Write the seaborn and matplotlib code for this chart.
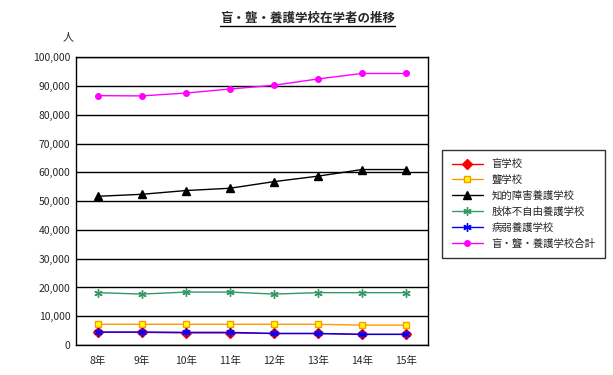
import pandas as pd
import matplotlib.pyplot as plt
import seaborn as sns

# data (人)
years = ["8年", "9年", "10年", "11年", "12年", "13年", "14年", "15年"]
mou = [4400, 4400, 4200, 4200, 4000, 4000, 3700, 3700]
rou = [7200, 7200, 7200, 7200, 7200, 7200, 6900, 6900]
chiteki = [51700, 52400, 53700, 54500, 56800, 58700, 61000, 61000]
shitai = [18200, 17700, 18400, 18400, 17700, 18200, 18200, 18200]
byojaku = [4500, 4500, 4400, 4400, 4000, 4000, 3700, 3700]
goukei = [86700, 86600, 87600, 89000, 90300, 92500, 94400, 94400]

names = ["盲学校", "聾学校", "知的障害養護学校", "肢体不自由養護学校", "病弱養護学校", "盲・聾・養護学校合計"]
series = [mou, rou, chiteki, shitai, byojaku, goukei]
colors = ["#ff0000", "#ff9900", "#000000", "#339966", "#0000ff", "#ff00ff"]
markers = ["D", "s", "^", (6, 2, 0), (6, 2, 0), "o"]
msizes = [5, 5, 6, 6, 6, 4]
mfc = ["#ff0000", "#ffff00", "#000000", "#339966", "#0000ff", "#ff00ff"]

sns.set_style("white")
plt.rcParams['font.family'] = ['Noto Sans CJK JP', 'DejaVu Sans']

fig = plt.figure(figsize=(6.13, 3.75), dpi=100)
ax = fig.add_axes([0.124, 0.08, 0.574, 0.767])

for name, vals, c, m, ms, fc in zip(names, series, colors, markers, msizes, mfc):
    df = pd.DataFrame({"year": years, "n": vals})
    sns.lineplot(data=df, x="year", y="n", ax=ax, color=c, marker=m,
                 markersize=ms, markerfacecolor=fc, markeredgecolor=c,
                 markeredgewidth=1, linewidth=1, label=name, legend=False)

ax.set_ylim(0, 100000)
ax.set_xlim(-0.5, 7.5)
ax.set_yticks(range(0, 100001, 10000))
ax.set_yticklabels([f"{v:,}" for v in range(0, 100001, 10000)], fontsize=7.5)
ax.grid(axis="y", color="black", linewidth=1)
ax.set_axisbelow(True)
ax.set_xlabel("")
ax.set_ylabel("")
ax.tick_params(axis="x", length=0, labelsize=7.5, pad=8)
ax.tick_params(axis="y", length=0, pad=4)
ax.set_xticks([i + 0.5 for i in range(7)], minor=True)
ax.tick_params(axis="x", which="minor", direction="in", length=3, color="black")
for s in ax.spines.values():
    s.set_color("black")
    s.set_linewidth(1)

title = fig.text(0.502, 0.952, "盲・聾・養護学校在学者の推移", ha="center", va="center",
                 fontsize=9, fontweight="bold")
fig.text(0.112, 0.9, "人", ha="center", va="center", fontsize=8)

# underline for title
fig.canvas.draw()
bb = title.get_window_extent()
x0, x1 = bb.x0 / fig.bbox.width, bb.x1 / fig.bbox.width
yline = bb.y0 / fig.bbox.height - 0.004
fig.add_artist(plt.Line2D([x0, x1], [yline, yline], color="black", linewidth=1))

handles, labels = ax.get_legend_handles_labels()
leg = fig.legend(handles, labels, loc="center", bbox_to_anchor=(0.854, 0.456),
                 fontsize=7.5, frameon=True, fancybox=False, borderpad=0.9,
                 handlelength=3, labelspacing=0.55)
leg.get_frame().set_edgecolor("black")
leg.get_frame().set_linewidth(1)

fig.savefig("out.png", dpi=100)
